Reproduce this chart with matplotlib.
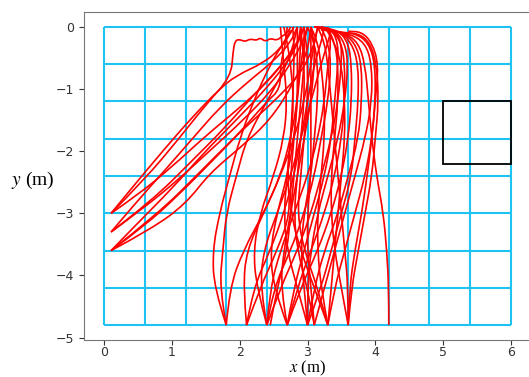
import matplotlib
matplotlib.use('Agg')
import matplotlib.pyplot as plt
from matplotlib.patches import Rectangle, PathPatch
from matplotlib.path import Path

plt.rcParams['mathtext.fontset'] = 'stix'

# grid of the room (m)
grid_x = [0.0, 0.6, 1.2, 1.8, 2.4, 3.0, 3.6, 4.2, 4.8, 5.4, 6.0]
grid_y = [0.0, -0.6, -1.2, -1.8, -2.4, -3.0, -3.6, -4.2, -4.8]

# target box: x, y, width, height
box = (5.0, -2.2, 1.0, 1.0)

# trajectories leaving towards the left wall (x, y pairs)
left_paths = [
    [(0.1, -3.0), (0.4, -2.6), (0.9, -1.95), (1.3, -1.45), (1.7, -1.0), (1.95, -0.78),
     (2.35, -0.58), (2.6, -0.35), (2.75, -0.1), (2.8, 0.0)],
    [(0.1, -3.0), (0.5, -2.7), (1.0, -2.25), (1.5, -1.75), (2.0, -1.3), (2.4, -0.9),
     (2.7, -0.5), (2.9, -0.15), (2.95, 0.0)],
    [(0.1, -3.3), (0.45, -2.85), (0.9, -2.3), (1.3, -1.8), (1.7, -1.3), (2.1, -0.9),
     (2.5, -0.55), (2.75, -0.25), (2.85, 0.0)],
    [(0.1, -3.3), (0.6, -2.9), (1.1, -2.45), (1.6, -1.95), (2.05, -1.5), (2.45, -1.05),
     (2.75, -0.6), (2.95, -0.2), (3.0, 0.0)],
    [(0.1, -3.3), (0.7, -2.8), (1.3, -2.15), (1.8, -1.6), (2.2, -1.1), (2.55, -0.7),
     (2.85, -0.3), (2.95, 0.0)],
    [(0.1, -3.6), (0.5, -3.15), (1.0, -2.6), (1.45, -2.05), (1.9, -1.55), (2.3, -1.1),
     (2.65, -0.65), (2.85, -0.3), (2.9, 0.0)],
    [(0.1, -3.6), (0.6, -3.2), (1.1, -2.7), (1.6, -2.15), (2.0, -1.7), (2.4, -1.2),
     (2.6, -1.0), (2.6, -0.6), (2.68, -0.25), (2.7, 0.0)],
    [(0.1, -3.6), (0.7, -3.25), (1.2, -2.85), (1.56, -2.35), (2.0, -1.95), (2.45, -1.5),
     (2.8, -0.9), (3.0, -0.4), (3.05, 0.0)],
    [(0.1, -3.6), (0.8, -3.0), (1.4, -2.35), (1.9, -1.8), (2.3, -1.4), (2.55, -1.15),
     (2.9, -0.75), (3.1, -0.3), (3.15, 0.0)],
    [(0.1, -3.0), (0.6, -2.45), (1.1, -1.8), (1.5, -1.25), (1.87, -0.8), (1.9, -0.4),
     (1.93, -0.22), (2.0, -0.2), (2.08, -0.24), (2.15, -0.19), (2.25, -0.22), (2.3, -0.17),
     (2.38, -0.24), (2.45, -0.18), (2.55, -0.22), (2.62, -0.15), (2.7, -0.1), (2.75, 0.0)],
]

# trajectories leaving through the bottom wall: x at these y levels, then a tail
bottom_levels = [-4.8, -4.2, -3.6, -3.0, -2.4, -1.8, -1.2, -0.6, -0.25]
bottom_x = [
    [1.80, 1.62, 1.60, 1.70, 1.85, 2.00, 2.20, 2.45, 2.65],
    [1.80, 1.70, 1.75, 1.80, 1.95, 2.10, 2.40, 2.70, 2.80],
    [1.80, 1.85, 2.05, 2.35, 2.60, 2.75, 2.85, 2.90, 2.95],
    [2.10, 2.05, 2.10, 2.35, 2.60, 2.80, 2.95, 3.05, 3.10],
    [2.10, 2.20, 2.45, 2.65, 2.80, 2.90, 3.00, 3.10, 3.20],
    [2.10, 2.30, 2.55, 2.75, 2.70, 2.75, 2.80, 2.75, 2.70],
    [2.40, 2.30, 2.35, 2.55, 2.75, 2.90, 3.05, 3.20, 3.30],
    [2.40, 2.45, 2.60, 2.80, 3.00, 3.15, 3.25, 3.30, 3.35],
    [2.40, 2.60, 2.85, 3.05, 3.20, 3.35, 3.45, 3.50, 3.50],
    [2.40, 2.25, 2.20, 2.30, 2.50, 2.65, 2.70, 2.65, 2.62],
    [2.40, 2.50, 2.75, 2.95, 3.10, 3.20, 3.30, 3.35, 3.30],
    [2.45, 2.55, 2.70, 2.75, 2.80, 2.85, 2.90, 2.95, 2.95],
    [2.70, 2.60, 2.65, 2.75, 2.85, 2.95, 3.05, 3.10, 3.10],
    [2.70, 2.80, 2.95, 3.10, 3.25, 3.35, 3.40, 3.45, 3.45],
    [2.70, 2.90, 3.15, 3.35, 3.50, 3.60, 3.65, 3.65, 3.60],
    [2.70, 2.50, 2.45, 2.55, 2.70, 2.80, 2.85, 2.85, 2.85],
    [2.70, 2.85, 3.05, 3.25, 3.40, 3.50, 3.55, 3.55, 3.50],
    [3.00, 3.00, 3.05, 3.15, 3.30, 3.45, 3.55, 3.60, 3.55],
    [3.00, 2.95, 2.90, 2.95, 3.05, 3.10, 3.15, 3.15, 3.10],
    [3.00, 3.10, 3.25, 3.45, 3.60, 3.75, 3.80, 3.80, 3.70],
    [3.00, 2.85, 2.70, 2.65, 2.70, 2.75, 2.78, 2.80, 2.80],
    [3.00, 3.20, 3.35, 3.50, 3.65, 3.70, 3.75, 3.75, 3.65],
    [3.10, 3.05, 3.00, 3.00, 3.05, 3.05, 3.05, 3.05, 3.05],
    [3.10, 3.25, 3.40, 3.55, 3.70, 3.85, 3.95, 3.95, 3.85],
    [3.10, 3.00, 2.85, 2.80, 2.85, 2.90, 2.95, 2.95, 2.92],
    [3.30, 3.20, 3.15, 3.15, 3.20, 3.25, 3.25, 3.20, 3.15],
    [3.30, 3.40, 3.55, 3.70, 3.85, 3.95, 4.00, 4.00, 3.90],
    [3.30, 3.15, 2.95, 2.85, 2.90, 2.95, 3.00, 3.00, 2.98],
    [3.30, 3.35, 3.40, 3.45, 3.50, 3.55, 3.55, 3.50, 3.40],
    [3.30, 3.10, 2.90, 2.75, 2.75, 2.80, 2.85, 2.88, 2.90],
    [3.60, 3.60, 3.55, 3.50, 3.45, 3.40, 3.35, 3.30, 3.25],
    [3.60, 3.65, 3.75, 3.85, 3.95, 4.00, 4.05, 4.02, 3.92],
    [3.60, 3.62, 3.70, 3.80, 3.88, 3.95, 4.00, 4.05, 3.95],
    [3.60, 3.50, 3.40, 3.35, 3.35, 3.40, 3.45, 3.45, 3.40],
    [4.20, 4.20, 4.17, 4.12, 4.02, 3.95, 3.90, 3.85, 3.75],
]
bottom_tails = [
    [(2.75, -0.05)],
    [(2.85, 0.0)],
    [(3.0, 0.0)],
    [(3.15, 0.0)],
    [(3.25, -0.02), (3.1, 0.0)],
    [(2.65, 0.0)],
    [(3.35, -0.05), (3.2, 0.0)],
    [(3.3, 0.0)],
    [(3.4, -0.05), (3.2, 0.0)],
    [(2.6, 0.0)],
    [(3.2, 0.0)],
    [(2.95, 0.0)],
    [(3.05, 0.0)],
    [(3.35, -0.03), (3.15, 0.0)],
    [(3.45, -0.05), (3.2, -0.02)],
    [(2.85, 0.0)],
    [(3.35, -0.04), (3.1, 0.0)],
    [(3.4, -0.05), (3.1, 0.0)],
    [(3.0, 0.0)],
    [(3.5, -0.08), (3.2, -0.05)],
    [(2.78, 0.0)],
    [(3.45, -0.06), (3.15, -0.02)],
    [(3.05, 0.0)],
    [(3.6, -0.1), (3.3, -0.05)],
    [(2.9, 0.0)],
    [(3.05, 0.0)],
    [(3.7, -0.1), (3.4, -0.08)],
    [(2.95, 0.0)],
    [(3.25, 0.0)],
    [(2.9, 0.0)],
    [(3.15, 0.0)],
    [(3.75, -0.1), (3.5, -0.1)],
    [(3.8, -0.08), (3.6, -0.07)],
    [(3.3, -0.02)],
    [(3.55, -0.1), (3.35, -0.05)],
]


def smooth_path(pts):
    # quadratic bezier segments through midpoints, corners become soft curves
    verts = [pts[0]]
    codes = [Path.MOVETO]
    for i in range(1, len(pts) - 1):
        mid = ((pts[i][0] + pts[i + 1][0]) / 2, (pts[i][1] + pts[i + 1][1]) / 2)
        verts += [pts[i], mid]
        codes += [Path.CURVE3, Path.CURVE3]
    verts.append(pts[-1])
    codes.append(Path.LINETO)
    return Path(verts, codes)


fig = plt.figure(figsize=(5.29, 3.77), dpi=100)
ax = fig.add_axes([0.1588, 0.0981, 0.845, 0.870])

grid_color = '#1ec3f2'
ax.vlines(grid_x, min(grid_y), max(grid_y), colors=grid_color, lw=1.5, zorder=1)
ax.hlines(grid_y, min(grid_x), max(grid_x), colors=grid_color, lw=1.5, zorder=1)

all_paths = list(left_paths)
for xs, tail in zip(bottom_x, bottom_tails):
    all_paths.append(list(zip(xs, bottom_levels)) + tail)

for pts in all_paths:
    ax.add_patch(PathPatch(smooth_path(pts), fill=False, edgecolor='red', lw=1.2, zorder=2))

ax.add_patch(Rectangle(box[:2], box[2], box[3], fill=False, edgecolor='black', lw=1.3, zorder=3))

ax.set_xlim(-0.3, 6.3)
ax.set_ylim(-5.04, 0.24)
ax.set_xticks([0, 1, 2, 3, 4, 5, 6])
ax.set_yticks([0, -1, -2, -3, -4, -5])
ax.tick_params(colors='#333333', labelsize=9)
ax.tick_params(axis='x', pad=1.0)
for s in ax.spines.values():
    s.set_color('#777777')

ax.set_xlabel('$x$ (m)', fontsize=12, family='Liberation Serif', va='center')
ax.xaxis.set_label_coords(0.5, -0.086)
ax.set_ylabel('$y$ (m)', fontsize=14, family='Liberation Serif', rotation=0,
              ha='center', va='center')
ax.yaxis.set_label_coords(-0.114, 0.488)

fig.savefig('out.png', dpi=100)
